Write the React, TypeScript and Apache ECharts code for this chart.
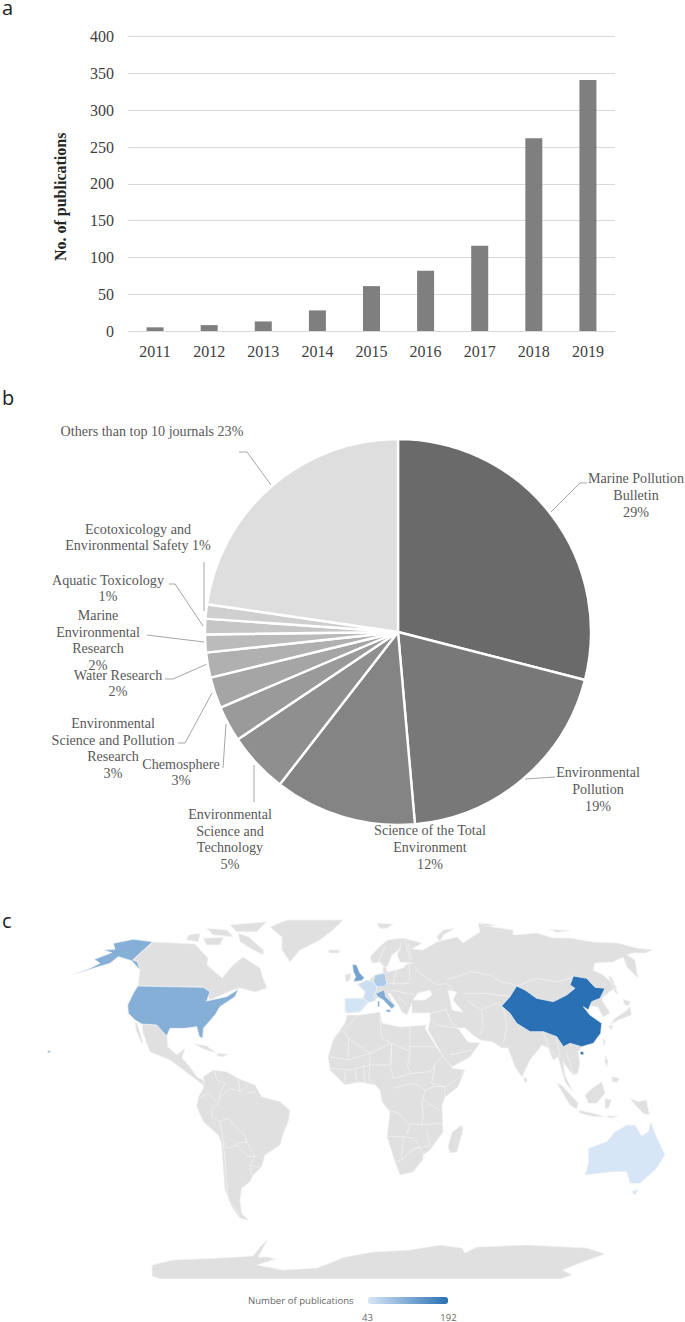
import React, { useEffect, useRef } from "react";
import * as echarts from "echarts";

// ---------- panel a ----------
const years = ["2011", "2012", "2013", "2014", "2015", "2016", "2017", "2018", "2019"];
const publications = [5, 8, 13, 28, 61, 82, 116, 262, 341];

// ---------- panel b ----------
const journals = [
  "Marine Pollution\nBulletin\n29%",
  "Environmental\nPollution\n19%",
  "Science of the Total\nEnvironment\n12%",
  "Environmental\nScience and\nTechnology\n5%",
  "Chemosphere\n3%",
  "Environmental\nScience and Pollution\nResearch\n3%",
  "Water Research\n2%",
  "Marine\nEnvironmental\nResearch\n2%",
  "Aquatic Toxicology\n1%",
  "Ecotoxicology and\nEnvironmental Safety 1%",
  "Others than top 10 journals 23%",
];
const journalShares = [29, 19.6, 11.9, 5.1, 3, 2.6, 2.1, 1.5, 1.3, 1.2, 22.7];
const sliceColors = ["#6a6a6a", "#787878", "#848484", "#8f8f8f", "#9a9a9a", "#a5a5a5", "#b0b0b0", "#bbbbbb", "#c6c6c6", "#cfcfcf", "#dedede"];
const labelCentres = [[636, 495], [598, 789], [430, 847], [230, 839], [181, 772], [113, 748], [118, 683], [98, 640], [108, 588], [138, 537], [152, 431]];
const leaderLines: (number[][] | null)[] = [
  [[550, 513], [580, 483], [587, 483]],
  [[525, 779], [555, 777]],
  null,
  [[254, 765], [254, 802]],
  [[226, 724], [223, 768]],
  [[212, 693], [185, 743], [178, 743]],
  [[207, 664], [173, 679], [165, 679]],
  [[204, 642], [147, 635]],
  [[203, 626], [175, 584], [169, 584]],
  [[204, 611], [204, 562]],
  [[271, 485], [247, 452], [239, 452]],
];

// ---------- panel c ----------
const countries = ["China", "United States", "United Kingdom", "Italy", "Germany", "France", "Spain", "Australia"];
const countryPublications = [192, 113, 128, 118, 78, 52, 46, 43];

type Pt = number[];
// outlines are traced in enlarged crops of the picture, each with its own origin
const from = (ox: number, oy: number, pts: Pt[]) => pts.map(([x, y]) => [ox + x / 3, oy + y / 3]);
const w = (pts: Pt[]) => from(0, 900, pts);
const e = (pts: Pt[]) => from(340, 900, pts);
const eu = (pts: Pt[]) => from(335, 915, pts);
const af = (pts: Pt[]) => from(330, 1015, pts);
const sea = (pts: Pt[]) => from(490, 1020, pts);
const sa = (pts: Pt[]) => from(190, 1060, pts);

const eurasia: Pt[] = [[375,975],[383,973],[383,967],[386,967],[387,972],[395,970],[403,968],[407,964],[413,963],[400,962],[397,954],[401,948],[392,955],[388,965],[385,968],[380,962],[372,963],[370,957],[380,946],[388,940],[402,938],[422,943],[412,949],[423,950],[437,942],[457,937],[463,943],[470,938],[480,932],[478,923],[493,927],[513,930],[513,935],[537,933],[553,938],[570,938],[593,942],[617,943],[637,948],[653,950],[645,953],[633,953],[627,955],[635,960],[638,978],[627,967],[623,957],[613,962],[595,963],[593,970],[603,975],[617,987],[612,990],[603,997],[602,1000],[610,1013],[603,1017],[598,1007],[590,1006],[583,1007],[590,1015],[602,1023],[601,1033],[593,1043],[582,1047],[578,1052],[580,1062],[578,1073],[573,1075],[563,1062],[565,1075],[573,1092],[565,1082],[558,1057],[553,1060],[548,1048],[542,1045],[530,1060],[522,1077],[515,1067],[508,1048],[502,1048],[493,1042],[480,1040],[473,1035],[465,1028],[458,1028],[468,1042],[480,1043],[470,1057],[452,1067],[445,1060],[428,1030],[430,1020],[430,1013],[412,1013],[412,1003],[407,1015],[402,1012],[397,1003],[390,993],[388,994],[395,1006],[392,1009],[383,1000],[378,997],[375,1001],[368,1003],[360,1012],[348,1013],[345,1012],[345,998],[363,998],[365,992],[358,984],[368,981]];
const blackSea: Pt[] = [[413,1000],[418,993],[430,990],[432,995],[425,1000]];
const caspian: Pt[] = [[448,990],[457,992],[453,1000],[463,1012],[452,1010]];
const africa: Pt[] = [[345,1023],[347,1015],[360,1015],[380,1012],[382,1023],[400,1027],[427,1025],[425,1028],[437,1048],[452,1068],[465,1070],[458,1087],[445,1097],[442,1105],[443,1132],[430,1150],[423,1155],[423,1160],[413,1172],[400,1175],[395,1162],[387,1137],[390,1112],[382,1102],[380,1090],[375,1085],[360,1082],[345,1085],[330,1070],[328,1057],[333,1040]];
const madagascar: Pt[] = [[462,1125],[463,1130],[457,1152],[450,1153],[448,1147],[452,1132]];
const canada: Pt[] = [[153,942],[175,943],[195,944],[208,958],[207,965],[222,978],[233,965],[243,957],[260,968],[263,978],[267,988],[255,992],[240,988],[233,990],[210,1000],[203,987],[138,986],[140,970],[132,961]];
const mexico: Pt[] = [[142,1024],[157,1025],[167,1036],[168,1047],[177,1055],[185,1048],[182,1058],[190,1067],[197,1077],[205,1081],[203,1085],[190,1075],[170,1060],[150,1052],[143,1033]];
const baja: Pt[] = [[135,1022],[137,1023],[143,1043],[141,1042],[136,1030]];
const greenland: Pt[] = [[270,927],[287,920],[343,920],[333,930],[320,940],[300,950],[290,962],[282,950],[282,937]];
const iceland: Pt[] = [[328,950],[340,950],[338,953],[330,953]];
const arctic: Pt[][] = [
  w([[715,100],[745,110],[790,150],[790,165],[760,150],[720,125]]),
  w([[610,115],[670,112],[660,135],[620,135]]),
  w([[565,105],[600,100],[595,125],[560,120]]),
  w([[690,75],[800,65],[770,95],[710,95]]),
  w([[620,85],[680,90],[700,110],[640,105]]),
  e([[110,70],[160,72],[140,85],[120,85]]),
  e([[290,110],[310,90],[345,85],[310,105],[300,125]]),
  e([[420,68],[470,75],[440,80]]),
  e([[630,88],[690,92],[650,97]]),
];
const southAmerica = sa([[40,50],[70,30],[110,35],[145,55],[195,75],[215,110],[270,125],[300,150],[295,185],[280,220],[270,255],[225,285],[215,320],[190,345],[180,365],[155,385],[150,420],[155,460],[175,480],[150,475],[125,440],[105,390],[100,330],[95,250],[85,225],[40,185],[20,140],[25,110],[40,85]]);
const islands: Pt[][] = [
  [[345,975],[351,973],[350,980],[346,982]],
  w([[580,430],[620,438],[650,460],[610,447]]),
  w([[650,460],[685,463],[670,470],[652,468]]),
  e([[790,415],[797,425],[790,440]]),
  sea([[105,170],[112,180],[108,188],[100,180]]),
  sea([[200,190],[215,195],[265,250],[260,268],[240,255]]),
  sea([[265,270],[310,280],[345,290],[310,290],[270,280]]),
  sea([[350,288],[385,288],[360,295]]),
  sea([[285,225],[300,210],[335,185],[340,200],[345,220],[320,250],[295,250]]),
  sea([[345,235],[365,240],[355,265],[345,265]]),
  sea([[420,235],[445,245],[470,240],[478,285],[460,280],[440,260]]),
  sea([[345,105],[355,125],[350,140],[345,125]]),
  sea([[365,170],[388,175],[380,188],[367,185]]),
  e([[870,320],[875,345],[835,360],[810,375],[825,355],[855,335]]),
  e([[850,298],[872,305],[865,318],[852,312]]),
  e([[805,378],[818,375],[815,390]]),
  e([[805,228],[815,232],[835,285],[825,275]]),
];
const antarctica: Pt[] = [[152,1265],[173,1260],[220,1258],[253,1256],[260,1247],[268,1239],[263,1248],[258,1257],[267,1257],[276,1259],[257,1265],[283,1270],[317,1268],[345,1257],[373,1252],[410,1250],[440,1245],[462,1248],[465,1253],[477,1247],[527,1245],[587,1248],[605,1254],[580,1263],[563,1270],[572,1275],[560,1279],[160,1279],[152,1276]];

const internalBorders: Pt[][] = [
  // South America
  sa([[75,35],[80,60],[105,70],[90,100]]), sa([[145,55],[150,95],[120,85],[105,100],[85,115]]), sa([[150,95],[175,75]]), sa([[170,100],[195,95]]), sa([[25,115],[55,100],[80,125]]), sa([[90,100],[85,130],[65,150],[65,170],[90,185],[115,175],[145,210],[165,225],[170,245],[140,250]]), sa([[90,185],[100,245],[115,265],[140,255],[175,290],[195,290],[180,265],[170,245]]), sa([[195,290],[180,315],[215,325]]), sa([[180,315],[185,345]]), sa([[100,245],[105,300],[110,370],[115,420],[150,465]]),
  // Africa
  af([[85,0],[40,45],[0,70]]), af([[40,45],[55,70],[120,115],[185,85]]), af([[150,10],[155,70],[185,85],[240,110],[240,30]]), af([[240,95],[320,95]]), af([[0,125],[55,135],[55,70]]), af([[55,135],[120,115],[120,150],[180,150],[185,85]]), af([[240,110],[232,155],[245,175],[300,170],[315,150],[335,125]]), af([[315,150],[305,205],[345,215],[385,190],[405,165]]), af([[180,150],[190,190],[245,175]]), af([[190,220],[205,215],[245,205],[265,210],[285,225],[275,265],[280,300],[275,330],[240,325],[230,360]]), af([[285,225],[310,215],[345,215],[345,245]]), af([[280,255],[335,290]]), af([[175,285],[205,295],[235,325]]), af([[170,365],[220,365],[215,435],[195,440]]), af([[220,365],[250,370],[270,395],[245,405],[215,435]]), af([[245,405],[270,395],[285,430]]), af([[275,330],[335,325]]), af([[290,345],[300,395],[280,395]]), af([[45,175],[45,205]]), af([[75,165],[80,200]]), af([[100,150],[105,205]]), af([[0,160],[60,165],[120,150]]), af([[120,150],[115,190],[135,210]]), af([[185,85],[185,150]]),
  // Asia
  e([[205,130],[215,180]]), e([[215,190],[240,220],[290,255],[320,250]]), e([[320,240],[395,215],[450,225],[480,245],[510,250],[530,258]]), e([[530,258],[590,235],[650,245],[690,235],[700,228]]), e([[370,280],[440,280],[510,290]]), e([[380,300],[425,330],[470,310],[490,320]]), e([[315,320],[335,370],[355,385]]), e([[425,330],[430,380],[420,405]]), e([[490,320],[500,380],[490,430]]), e([[270,340],[320,330]]), e([[290,375],[355,385]]), e([[270,360],[290,375]]), e([[330,465],[395,450]]), e([[650,410],[660,470]]), e([[680,460],[700,520]]), e([[610,395],[625,440],[650,470]]), e([[320,250],[340,270]]),
  // Europe
  eu([[150,95],[130,140]]), eu([[200,70],[195,100]]), eu([[210,75],[225,140]]), eu([[185,165],[175,210]]), eu([[222,145],[225,190],[200,215]]), eu([[150,205],[225,205]]), eu([[170,225],[240,240]]), eu([[190,245],[215,270]]), eu([[155,225],[185,265]]),
];

const usaShapes: Pt[][] = [
  w([[413,258],[610,262],[630,275],[620,303],[680,290],[715,268],[705,290],[660,320],[645,345],[610,385],[608,415],[598,410],[590,380],[555,385],[510,385],[500,408],[470,375],[425,372],[405,360],[385,340],[383,315],[400,280]]),
  w([[458,125],[400,118],[340,130],[345,148],[310,150],[335,158],[283,178],[300,190],[270,205],[215,225],[330,190],[355,170],[395,182],[420,210],[412,185],[398,180]]),
  w([[143,452],[151,452],[151,458],[143,458]]),
];
const chinaShapes: Pt[][] = [
  e([[485,318],[510,290],[530,258],[555,270],[590,295],[640,305],[680,285],[705,265],[690,255],[700,228],[740,235],[765,262],[795,265],[780,295],[755,305],[745,330],[730,320],[750,345],[785,370],[782,400],[760,430],[725,440],[690,430],[670,440],[650,410],[610,395],[570,395],[530,370],[510,340]]),
  e([[720,455],[730,455],[732,463],[722,465]]),
];
const ukShape = eu([[52,148],[65,150],[75,175],[88,188],[80,197],[55,200],[62,185],[55,170]]);
const germanyShape = eu([[120,180],[150,175],[155,205],[148,215],[125,215],[115,200]]);
const franceShape = eu([[68,208],[95,195],[115,200],[125,215],[125,225],[118,240],[120,258],[100,262],[85,250],[90,230]]);
const spainShape = eu([[30,250],[85,250],[100,262],[75,290],[40,295],[30,285]]);
const italyShapes: Pt[][] = [
  eu([[122,235],[148,225],[152,245],[180,272],[170,282],[145,255],[128,245]]),
  eu([[128,258],[134,258],[134,275],[128,275]]),
  eu([[152,284],[168,284],[165,292],[155,291]]),
];
const australiaShapes: Pt[][] = [
  e([[745,745],[800,725],[825,695],[860,675],[885,675],[905,708],[925,695],[932,665],[945,700],[975,765],[950,805],[900,850],[870,850],[860,815],[820,815],[735,825],[745,790]]),
  e([[875,875],[895,868],[885,885]]),
];

const multi = (name: string, polys: Pt[][]) => ({ type: "Feature", properties: { name }, geometry: { type: "MultiPolygon", coordinates: polys.map((p) => [p]) } });

const worldOutline = {
  type: "FeatureCollection",
  features: [
    { type: "Feature", properties: { name: "Eurasia" }, geometry: { type: "Polygon", coordinates: [eurasia, [...blackSea].reverse(), [...caspian].reverse()] } },
    multi("Land", [africa, madagascar, canada, mexico, baja, greenland, iceland, southAmerica, antarctica, ...arctic, ...islands]),
    { type: "Feature", properties: { name: "Borders" }, geometry: { type: "MultiLineString", coordinates: internalBorders } },
    multi("United States", usaShapes),
    multi("China", chinaShapes),
    multi("United Kingdom", [ukShape]),
    multi("Germany", [germanyShape]),
    multi("France", [franceShape]),
    multi("Spain", [spainShape]),
    multi("Italy", italyShapes),
    multi("Australia", australiaShapes),
  ],
};

const serif = "'Liberation Serif', 'Times New Roman', serif";
const sans = "'Open Sans', sans-serif";

export default function App() {
  const ref = useRef<HTMLDivElement>(null);
  useEffect(() => {
    if (!ref.current) return;
    echarts.registerMap("publicationWorld", worldOutline as any);
    const chart = echarts.init(ref.current, undefined, { renderer: "svg" });
    const identity = { project: (p: number[]) => p, unproject: (p: number[]) => p };
    chart.setOption({
      animation: false,
      backgroundColor: "#ffffff",
      grid: { left: 128, top: 36.7, width: 487, height: 294.3, containLabel: false },
      xAxis: {
        type: "category",
        data: years,
        axisTick: { show: false },
        axisLine: { lineStyle: { color: "#d9d9d9" } },
        axisLabel: { fontFamily: serif, fontSize: 16, color: "#404040", margin: 12 },
      },
      yAxis: {
        type: "value",
        min: 0,
        max: 400,
        interval: 50,
        name: "No. of publications",
        nameLocation: "middle",
        nameGap: 60,
        nameTextStyle: { fontFamily: serif, fontSize: 16, fontWeight: "bold", color: "#262626", padding: [0, 26, 0, 0] },
        axisLine: { show: false },
        axisTick: { show: false },
        splitLine: { lineStyle: { color: "#d9d9d9", width: 1 } },
        axisLabel: { fontFamily: serif, fontSize: 16, color: "#404040", margin: 14 },
      },
      visualMap: {
        type: "continuous",
        seriesIndex: 2,
        min: 43,
        max: 192,
        orient: "horizontal",
        left: 368,
        top: 1297,
        itemWidth: 7,
        itemHeight: 80,
        calculable: false,
        showLabel: false,
        text: null,
        padding: 0,
        realtime: false,
        hoverLink: false,
        inRange: { color: ["#d6e6f6", "#2a70b4"] },
        outOfRange: { color: "#e0e0e0" },
      },
      series: [
        {
          type: "bar",
          data: publications,
          barWidth: 17,
          itemStyle: { color: "#7f7f7f" },
          silent: true,
        },
        {
          type: "pie",
          center: [398, 632],
          radius: 193,
          startAngle: 90,
          clockwise: true,
          silent: true,
          avoidLabelOverlap: false,
          itemStyle: { borderColor: "#ffffff", borderWidth: 2.4 },
          data: journals.map((name, i) => ({
            name,
            value: journalShares[i],
            itemStyle: { color: sliceColors[i] },
            labelLine: { show: !!leaderLines[i] },
          })),
          label: {
            show: true,
            formatter: "{b}",
            fontFamily: serif,
            fontSize: 14.1,
            lineHeight: 16.6,
            color: "#595959",
            align: "center",
          },
          labelLine: { show: true, lineStyle: { color: "#a6a6a6", width: 1 } },
          labelLayout: (params: any) => {
            const i = params.dataIndex;
            const c = labelCentres[i];
            return {
              x: c[0],
              y: c[1],
              align: "center",
              verticalAlign: "middle",
              hideOverlap: false,
              moveOverlap: false,
              ...(leaderLines[i] ? { labelLinePoints: leaderLines[i] } : {}),
            };
          },
        },
        {
          type: "map",
          map: "publicationWorld",
          projection: identity,
          boundingCoords: [[0, 900], [685, 1322]],
          left: 0,
          top: 900,
          width: 685,
          height: 422,
          roam: false,
          silent: true,
          selectedMode: false,
          label: { show: false },
          emphasis: { disabled: true },
          itemStyle: { areaColor: "#e0e0e0", borderColor: "#f4f4f4", borderWidth: 0.7 },
          data: countries.map((name, i) => ({ name, value: countryPublications[i] })),
        },
      ],
      graphic: [
        { type: "text", x: 2, y: 7, style: { text: "a", fontFamily: sans, fontSize: 20, lineHeight: 14, fill: "#222222", verticalAlign: "middle" } },
        { type: "text", x: 2, y: 397, style: { text: "b", fontFamily: sans, fontSize: 20, fill: "#222222", verticalAlign: "middle" } },
        { type: "text", x: 2, y: 920, style: { text: "c", fontFamily: sans, fontSize: 20, fill: "#222222", verticalAlign: "middle" } },
        { type: "text", x: 248, y: 1300, style: { text: "Number of publications", fontFamily: sans, fontSize: 9.6, fill: "#666666", verticalAlign: "middle" } },
        { type: "text", x: 367.5, y: 1317, style: { text: "43", fontFamily: sans, fontSize: 9.5, fill: "#666666", align: "center", verticalAlign: "middle" } },
        { type: "text", x: 448.5, y: 1317, style: { text: "192", fontFamily: sans, fontSize: 9.5, fill: "#666666", align: "center", verticalAlign: "middle" } },
      ],
    });
    return () => chart.dispose();
  }, []);
  return <div ref={ref} style={{ position: "absolute", left: 0, top: 0, width: 685, height: 1322 }} />;
}
